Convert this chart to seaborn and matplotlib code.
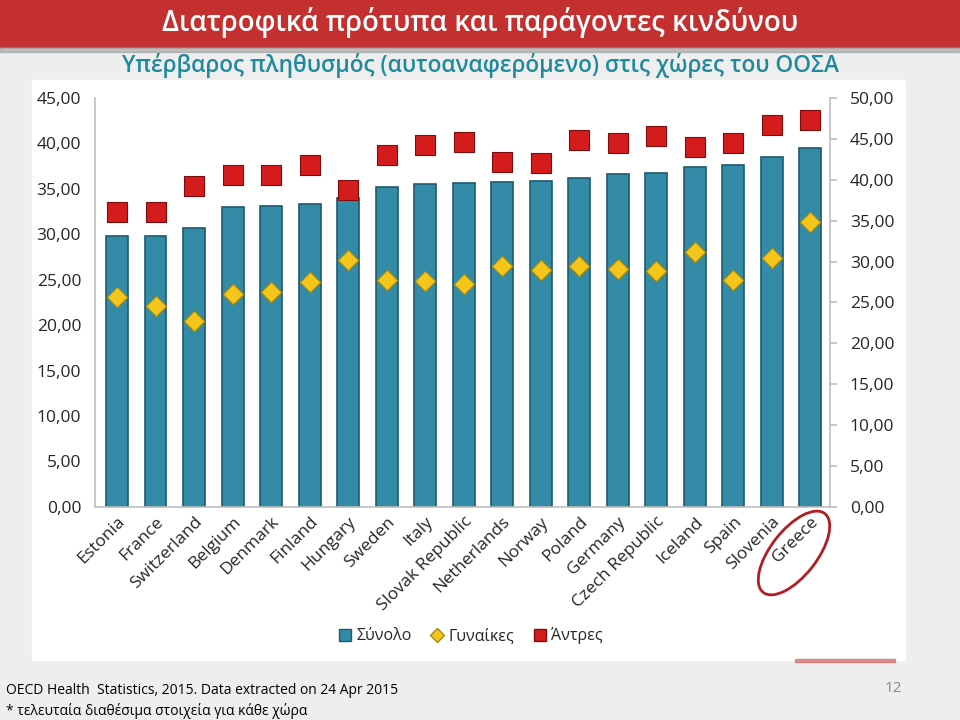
import numpy as np
import pandas as pd
import matplotlib
matplotlib.use("Agg")
import matplotlib.pyplot as plt
from matplotlib.patches import Rectangle, Ellipse
from matplotlib.lines import Line2D
from matplotlib.ticker import FuncFormatter, MultipleLocator
import seaborn as sns

# δεδομένα (ανάγνωση από το γράφημα)
countries = ["Estonia", "France", "Switzerland", "Belgium", "Denmark", "Finland",
             "Hungary", "Sweden", "Italy", "Slovak Republic", "Netherlands", "Norway",
             "Poland", "Germany", "Czech Republic", "Iceland", "Spain", "Slovenia", "Greece"]
total = [29.8, 29.8, 30.7, 33.0, 33.1, 33.3, 34.0, 35.2, 35.5, 35.6,
         35.8, 35.9, 36.2, 36.6, 36.7, 37.4, 37.6, 38.5, 39.5]
women = [25.6, 24.5, 22.7, 26.0, 26.3, 27.5, 30.2, 27.7, 27.6, 27.3,
         29.5, 29.0, 29.4, 29.1, 28.9, 31.2, 27.7, 30.4, 34.8]
men = [36.0, 36.1, 39.2, 40.6, 40.6, 41.8, 38.7, 43.0, 44.2, 44.6,
       42.2, 42.1, 44.9, 44.5, 45.3, 44.0, 44.5, 46.7, 47.3]
legend_labels = ["Σύνολο", "Γυναίκες", "Άντρες"]

title = "Διατροφικά πρότυπα και παράγοντες κινδύνου"
subtitle = "Υπέρβαρος πληθυσμός (αυτοαναφερόμενο) στις χώρες του ΟΟΣΑ"
source = "OECD Health  Statistics, 2015. Data extracted on 24 Apr 2015"
note = "* τελευταία διαθέσιμα στοιχεία για κάθε χώρα"

BAR_C, BAR_E = "#338ba8", "#1d5a6e"
WOM_C, WOM_E = "#f4c61c", "#a88a0c"
MEN_C, MEN_E = "#d41c1c", "#7e0c0c"

sns.set_theme(style="white")
plt.rcParams['font.family'] = ['Open Sans', 'DejaVu Sans']

df = pd.DataFrame({"country": countries, "total": total, "women": women, "men": men})
df["pos"] = np.arange(len(df))

fig = plt.figure(figsize=(9.6, 7.2), dpi=100)
fig.patch.set_facecolor("#eeeeee")

# φόντο διαφάνειας σε συντεταγμένες pixel
bg = fig.add_axes([0, 0, 1, 1], zorder=0)
bg.set_xlim(0, 960); bg.set_ylim(720, 0); bg.axis("off")
bg.add_patch(Rectangle((0, 0), 960, 47, color="#c43030"))
bg.add_patch(Rectangle((0, 47), 960, 5, color="#8e8e8e", alpha=0.5))
bg.add_patch(Rectangle((32, 80), 873, 580, color="white"))
bg.text(480, 23, title, color="white", fontsize=20, fontweight="semibold",
        ha="center", va="center")
bg.text(481, 65, subtitle, color="#1e8a9b", fontsize=16.3, fontweight="semibold",
        ha="center", va="center")
bg.text(6, 690, source, color="black", fontsize=10, ha="left", va="center")
bg.text(6, 711, note, color="black", fontsize=10, ha="left", va="center")
bg.text(902, 688, "12", color="#8a8a8a", fontsize=11, ha="right", va="center")
bg.add_patch(Rectangle((795, 659), 100, 3, color="#d05050", alpha=0.6))
bg.add_patch(Ellipse((794, 553), 100, 46, angle=-52, fill=False,
                     edgecolor="#b01e24", linewidth=2, zorder=5))

ax = fig.add_axes([0.099, 0.296, 0.766, 0.568], zorder=1)
ax.set_facecolor("none")
sns.barplot(data=df, x="pos", y="total", color=BAR_C, saturation=1, width=0.57,
            edgecolor=BAR_E, linewidth=1.2, native_scale=True, ax=ax, zorder=2)
ax.set_xlim(-0.57, len(df) - 0.48)
ax.set_ylim(0, 45)
ax.yaxis.set_major_locator(MultipleLocator(5))
fmt = FuncFormatter(lambda v, p: f"{v:.2f}".replace(".", ","))
ax.yaxis.set_major_formatter(fmt)
ax.set_xticks(df["pos"])
ax.set_xticklabels(countries, rotation=45, ha="right", rotation_mode="anchor", fontsize=12.5)
ax.tick_params(axis="x", length=0, pad=5)
ax.tick_params(axis="y", labelsize=12.5, length=0, pad=10)
ax.set_xlabel(""); ax.set_ylabel("")
for s in ["top", "right"]:
    ax.spines[s].set_visible(False)
for s in ["left", "bottom"]:
    ax.spines[s].set_color("#bfbfbf")
    ax.spines[s].set_linewidth(1.2)

ax2 = ax.twinx()
ax2.set_zorder(2)
sns.scatterplot(data=df, x="pos", y="men", marker="s", s=200, color=MEN_C,
                edgecolor=MEN_E, linewidth=0.8, ax=ax2, zorder=3)
sns.scatterplot(data=df, x="pos", y="women", marker="D", s=110, color=WOM_C,
                edgecolor=WOM_E, linewidth=0.8, ax=ax2, zorder=3)
ax2.set_ylim(0, 50)
ax2.yaxis.set_major_locator(MultipleLocator(5))
ax2.yaxis.set_major_formatter(fmt)
ax2.tick_params(axis="y", labelsize=12.5, length=5, color="#bfbfbf", pad=9, right=True)
ax2.set_ylabel("")
for s in ["top", "left", "bottom"]:
    ax2.spines[s].set_visible(False)
ax2.spines["right"].set_color("#bfbfbf")
ax2.spines["right"].set_linewidth(1.2)

handles = [
    Line2D([], [], marker="s", linestyle="none", markersize=8, markerfacecolor=BAR_C, markeredgecolor=BAR_E),
    Line2D([], [], marker="D", linestyle="none", markersize=7, markerfacecolor=WOM_C, markeredgecolor=WOM_E),
    Line2D([], [], marker="s", linestyle="none", markersize=8, markerfacecolor=MEN_C, markeredgecolor=MEN_E),
]
fig.legend(handles, legend_labels, loc="center", bbox_to_anchor=(469 / 960, 1 - 636 / 720),
           ncol=3, frameon=False, fontsize=11.5, handletextpad=0.1, columnspacing=1.0,
           handlelength=1.2)

fig.savefig("out.png", dpi=100, facecolor=fig.get_facecolor())
